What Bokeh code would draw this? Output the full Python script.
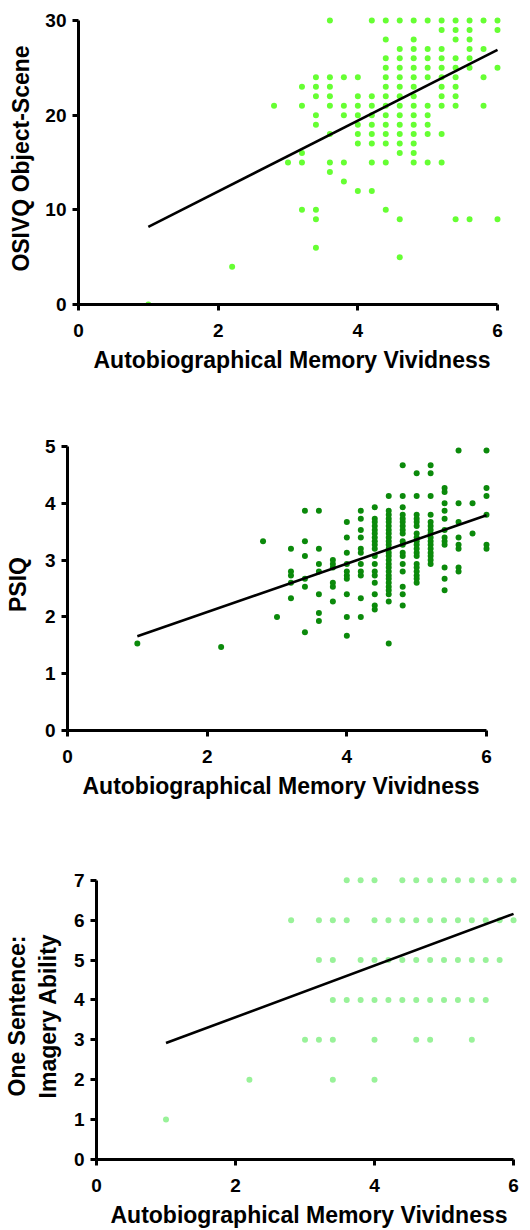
from bokeh.plotting import figure
from bokeh.models import Range1d, FixedTicker
from bokeh.embed import file_html
from bokeh.resources import INLINE

FONT = "Liberation Sans"
X_TITLE = "Autobiographical Memory Vividness"
x_ticks = [0, 2, 4, 6]

# ---------------- Panel 1: OSIVQ Object-Scene (rows by score) ----------------
osivq_levels = [30, 29, 28, 27, 26, 25, 24, 23, 22, 21, 20, 19, 18, 17, 16, 15, 14, 13, 12, 10, 9, 6, 5, 4, 0]
osivq_amv_rows = [
    [3.6, 4.2, 4.4, 4.6, 4.8, 5.0, 5.2, 5.4, 5.6, 5.8, 6.0],
    [5.2, 5.4, 5.6, 6.0],
    [4.4, 4.8, 5.4, 5.6],
    [4.6, 4.8, 5.0, 5.2, 5.6, 5.8],
    [4.4, 4.6, 4.8, 5.0, 5.2, 5.4, 5.6],
    [4.4, 4.6, 4.8, 5.0, 5.2, 5.4, 5.6, 6.0],
    [3.4, 3.6, 3.8, 4.0, 4.4, 4.6, 4.8, 5.0, 5.2, 5.4, 5.8],
    [3.2, 3.4, 3.6, 4.4, 4.6, 4.8, 5.2, 5.4],
    [3.4, 3.6, 4.0, 4.2, 4.4, 4.6, 4.8, 5.2, 5.4],
    [2.8, 3.2, 3.6, 3.8, 4.0, 4.2, 4.4, 4.6, 4.8, 5.0, 5.2, 5.4, 5.8],
    [3.4, 3.8, 4.0, 4.2, 4.4, 4.6, 4.8, 5.0],
    [3.4, 4.0, 4.2, 4.4, 4.6, 4.8, 5.0],
    [3.6, 4.0, 4.2, 4.4, 4.6, 4.8, 5.0, 5.2],
    [4.0, 4.2, 4.4, 4.6, 4.8],
    [3.2, 4.6, 4.8],
    [3.0, 3.2, 3.6, 3.8, 4.2, 4.4, 4.8, 5.0, 5.2],
    [3.6],
    [3.8],
    [4.0, 4.2],
    [3.2, 3.4, 4.4],
    [3.4, 4.6, 5.4, 5.6, 6.0],
    [3.4],
    [4.6],
    [2.2],
    [1.0],
]
osivq_fit_x = [1.0, 6.0]
osivq_fit_y = [8.2, 26.9]
osivq_ticks = [0, 10, 20, 30]

# ---------------- Panel 2: PSIQ (columns by AMV) ----------------
psiq_amv_levels = [1.0, 2.2, 2.8, 3.0, 3.2, 3.4, 3.6, 3.8, 4.0, 4.2, 4.4, 4.6, 4.8, 5.0, 5.2, 5.4, 5.6, 5.8, 6.0]
psiq_cols = [
    [1.53],
    [1.47],
    [3.33],
    [2.00],
    [3.20, 2.80, 2.73, 2.60, 2.33],
    [3.87, 3.33, 3.07, 2.67, 2.53, 1.73],
    [3.87, 3.20, 2.93, 2.80, 2.40, 2.07, 1.93],
    [3.00, 2.93, 2.87, 2.60, 2.53, 2.27],
    [3.67, 3.40, 3.13, 2.93, 2.80, 2.73, 2.67, 2.40, 2.00, 1.67],
    [3.87, 3.73, 3.53, 3.40, 3.20, 3.13, 2.93, 2.80, 2.73, 2.33, 2.00],
    [3.93, 3.73, 3.67, 3.60, 3.53, 3.47, 3.40, 3.33, 3.27, 3.20, 3.07, 2.93, 2.80, 2.73, 2.60, 2.40, 2.20, 2.13],
    [4.13, 3.87, 3.80, 3.73, 3.67, 3.60, 3.53, 3.47, 3.40, 3.33, 3.27, 3.20, 3.13, 3.07, 3.00, 2.93, 2.87, 2.80,
     2.73, 2.67, 2.60, 2.53, 2.47, 2.40, 2.27, 1.53],
    [4.67, 4.13, 3.93, 3.80, 3.73, 3.67, 3.60, 3.53, 3.47, 3.33, 3.27, 3.13, 3.07, 2.93, 2.80, 2.53, 2.40, 2.20],
    [4.53, 4.13, 3.80, 3.73, 3.67, 3.60, 3.47, 3.40, 3.33, 3.27, 3.20, 3.13, 3.07, 2.93, 2.87, 2.80, 2.73, 2.67, 2.60],
    [4.67, 4.53, 4.13, 3.80, 3.67, 3.60, 3.53, 3.47, 3.40, 3.33, 3.27, 3.20, 3.13, 3.07, 3.00, 2.93],
    [4.27, 4.20, 4.00, 3.87, 3.73, 3.53, 3.40, 3.33, 3.27, 2.87, 2.67, 2.47],
    [4.93, 4.00, 3.67, 3.40, 3.27, 3.20, 2.87, 2.80],
    [4.00, 3.47],
    [4.93, 4.27, 4.13, 3.80, 3.27, 3.20],
]
psiq_fit_x = [1.0, 6.0]
psiq_fit_y = [1.66, 3.79]
psiq_ticks = [0, 1, 2, 3, 4, 5]

# ---------------- Panel 3: One Sentence Imagery Ability (rows by score) ----------------
osia_levels = [7, 6, 5, 4, 3, 2, 1]
osia_amv_rows = [
    [3.6, 3.8, 4.0, 4.4, 4.6, 4.8, 5.0, 5.2, 5.4, 5.6, 5.8, 6.0],
    [2.8, 3.2, 3.4, 3.6, 4.0, 4.2, 4.4, 4.6, 4.8, 5.0, 5.2, 5.4, 5.6, 5.8, 6.0],
    [3.2, 3.4, 3.8, 4.0, 4.2, 4.4, 4.6, 4.8, 5.0, 5.2, 5.4, 5.6, 5.8],
    [3.4, 3.6, 3.8, 4.0, 4.2, 4.4, 4.6, 4.8, 5.0, 5.2, 5.4, 5.6],
    [3.0, 3.2, 3.4, 4.0, 4.6, 4.8, 5.4],
    [2.2, 3.4, 4.0],
    [1.0],
]
osia_fit_x = [1.0, 6.0]
osia_fit_y = [2.92, 6.16]
osia_ticks = [0, 1, 2, 3, 4, 5, 6, 7]

# build point tables
p1_x = [x for lv, row in zip(osivq_levels, osivq_amv_rows) for x in row]
p1_y = [lv for lv, row in zip(osivq_levels, osivq_amv_rows) for x in row]
p2_x = [lv for lv, col in zip(psiq_amv_levels, psiq_cols) for y in col]
p2_y = [y for lv, col in zip(psiq_amv_levels, psiq_cols) for y in col]
p3_x = [x for lv, row in zip(osia_levels, osia_amv_rows) for x in row]
p3_y = [lv for lv, row in zip(osia_levels, osia_amv_rows) for x in row]


def panel(xs, ys, color, fit_x, fit_y, y_max, y_ticks, y_title, left, right, top, bottom, y_std):
    frame_w = 427
    data_h = 284
    frame_h = data_h + 8
    ppx = 419 / 6.0
    ppy = data_h / float(y_max)
    p = figure(width=left + frame_w + right, height=top + frame_h + bottom,
               x_range=Range1d(0, 6 + 8 / ppx),
               y_range=Range1d(0, y_max + 8 / ppy),
               output_backend="svg", toolbar_location=None,
               min_border_left=left, min_border_right=right,
               min_border_top=top, min_border_bottom=bottom)
    p.outline_line_color = None
    p.grid.visible = False
    p.background_fill_color = "white"
    p.border_fill_color = "white"

    p.scatter(xs, ys, size=6, fill_color=color, line_color=None)
    p.line(fit_x, fit_y, line_color="black", line_width=2.6)

    p.xaxis.ticker = FixedTicker(ticks=x_ticks, minor_ticks=[])
    p.yaxis.ticker = FixedTicker(ticks=y_ticks, minor_ticks=[])
    p.xaxis.bounds = (0, 6)
    p.yaxis.bounds = (0, y_max)
    p.xaxis.axis_label = X_TITLE
    p.yaxis.axis_label = y_title
    for ax in (p.xaxis, p.yaxis):
        ax.axis_line_width = 3
        ax.axis_line_color = "black"
        ax.major_tick_line_width = 3
        ax.major_tick_line_color = "black"
        ax.major_tick_out = 6
        ax.major_tick_in = 0
        ax.minor_tick_out = 0
        ax.minor_tick_in = 0
        ax.major_label_text_font = FONT
        ax.major_label_text_font_size = "19px"
        ax.major_label_text_font_style = "bold"
        ax.major_label_text_color = "black"
        ax.axis_label_text_font = FONT
        ax.axis_label_text_font_size = "23px"
        ax.axis_label_text_font_style = "bold"
        ax.axis_label_text_color = "black"
    p.xaxis.major_label_standoff = 13
    p.xaxis.axis_label_standoff = 7
    p.yaxis.major_label_standoff = 6
    p.yaxis.axis_label_standoff = y_std
    return p


p1 = panel(p1_x, p1_y, "#66FF33", osivq_fit_x, osivq_fit_y, 30, osivq_ticks,
           "OSIVQ Object-Scene", left=78, right=25, top=12, bottom=128, y_std=8)
p2 = panel(p2_x, p2_y, "#0B8A0B", psiq_fit_x, psiq_fit_y, 5, psiq_ticks,
           "PSIQ", left=67, right=36, top=6, bottom=136, y_std=11)
p3 = panel(p3_x, p3_y, "#99F299", osia_fit_x, osia_fit_y, 7, osia_ticks,
           "One Sentence:\nImagery Ability", left=94, right=9, top=6, bottom=66, y_std=10)

open("out.html", "w").write(file_html([p1, p2, p3], INLINE))
